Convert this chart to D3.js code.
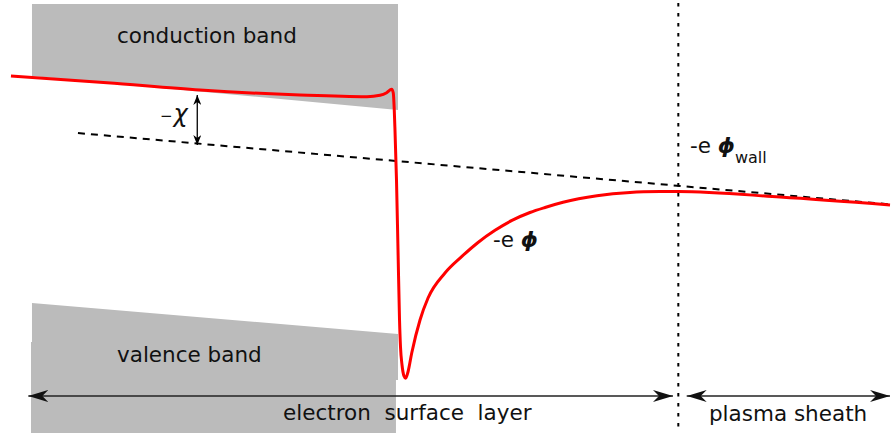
<!DOCTYPE html>
<html>
<head>
<meta charset="utf-8">
<script src="https://cdn.jsdelivr.net/npm/d3@7/dist/d3.min.js"></script>
<style>
  html, body { margin: 0; padding: 0; background: #fff; }
  svg { display: block; font-family: "DejaVu Sans", sans-serif; }
</style>
</head>
<body>
<svg id="chart" width="891" height="433"></svg>
<script>
// ---- data (position u: 0..100 across, energy E: 0..100 bottom to top) ----
const potentialU = [1.23, 12.01, 22.45, 33.67, 41.19, 42.65, 43.40, 43.96, 44.14, 44.25, 44.33, 44.50, 44.67, 44.84, 44.95, 45.12, 45.34, 45.53, 45.79, 46.21, 47.14, 48.04, 49.94, 51.81, 53.65, 55.56, 57.46, 59.48, 61.17, 63.19, 67.00, 70.71, 74.07, 76.09, 87.54, 99.89];
const potentialE = [82.45, 80.90, 79.21, 78.06, 77.67, 77.99, 78.59, 79.38, 78.52, 74.60, 69.98, 58.43, 42.26, 26.10, 19.86, 15.70, 13.16, 12.63, 14.09, 18.48, 26.10, 31.18, 36.95, 40.72, 44.00, 46.81, 49.10, 50.92, 52.08, 53.28, 54.78, 55.54, 55.75, 55.77, 54.50, 52.66];

const vacuumU = [8.75, 100];
const vacuumE = [69.28, 52.77];

const conductionU = [3.59, 44.67, 44.67, 3.59];
const conductionE = [99.08, 99.08, 74.60, 82.45];

const valenceU = [3.59, 44.67, 44.67, 44.44, 44.44, 3.48, 3.48, 3.59];
const valenceE = [30.02, 22.86, 12.24, 12.24, 0, 0, 21.02, 21.02];

const interfaceU = 76.13;          // surface layer / sheath boundary
const chiU = 22.14, chiTop = 78.06, chiBottom = 66.51;

const spanNames = ["electron  surface  layer", "plasma sheath"];
const spanFrom = [3.18, 77.07];
const spanTo = [75.53, 99.89];
const spanE = 8.55;
const spanLabelU = [31.76, 79.57];
const spanLabelE = [3.0, 2.77];

const bandNames = ["conduction band", "valence band"];
const bandLabelU = [13.13, 13.13];
const bandLabelE = [90.07, 16.40];

// ---- scales ----
const W = 891, H = 433;
const x = d3.scaleLinear().domain([0, 100]).range([0, W]);
const y = d3.scaleLinear().domain([0, 100]).range([H, 0]);

const svg = d3.select("#chart");
const defs = svg.append("defs");

function marker(id, len, wid, color) {
  defs.append("marker")
    .attr("id", id)
    .attr("markerUnits", "userSpaceOnUse")
    .attr("markerWidth", len).attr("markerHeight", wid)
    .attr("viewBox", `0 0 ${len} ${wid}`)
    .attr("refX", len).attr("refY", wid / 2)
    .attr("orient", "auto-start-reverse")
    .append("path")
    .attr("d", `M0,0 L${len},${wid/2} L0,${wid} L${len*0.3},${wid/2} Z`)
    .attr("fill", color);
}
marker("bigArrow", 20, 12, "#111");
marker("smallArrow", 10, 8, "#000");

const bandColor = "#bbbbbb";
const poly = (us, es) => us.map((u, i) => [x(u), y(es[i])]);

// bands
svg.append("polygon")
  .attr("points", poly(conductionU, conductionE).join(" "))
  .attr("fill", bandColor);
svg.append("polygon")
  .attr("points", poly(valenceU, valenceE).join(" "))
  .attr("fill", bandColor);

// band labels
svg.selectAll("text.band").data(bandNames).enter().append("text")
  .attr("class", "band")
  .attr("x", (d, i) => x(bandLabelU[i]))
  .attr("y", (d, i) => y(bandLabelE[i]))
  .attr("font-size", 21.5)
  .attr("fill", "#111")
  .text(d => d);

// vacuum level (dashed)
svg.append("line")
  .attr("x1", x(vacuumU[0])).attr("y1", y(vacuumE[0]))
  .attr("x2", x(vacuumU[1])).attr("y2", y(vacuumE[1]))
  .attr("stroke", "#000").attr("stroke-width", 2)
  .attr("stroke-dasharray", "7 6");

// interface dotted vertical
svg.append("line")
  .attr("x1", x(interfaceU)).attr("x2", x(interfaceU))
  .attr("y1", y(99.3)).attr("y2", y(0))
  .attr("stroke", "#000").attr("stroke-width", 2)
  .attr("stroke-dasharray", "3.5 6.5");

// potential curve
const pts = potentialU.map((u, i) => [u, potentialE[i]]);
svg.append("path")
  .attr("d", d3.line().x(d => x(d[0])).y(d => y(d[1])).curve(d3.curveMonotoneX)(pts))
  .attr("fill", "none")
  .attr("stroke", "#ff0000")
  .attr("stroke-width", 3)
  .attr("stroke-linejoin", "round");

// chi arrow
svg.append("line")
  .attr("x1", x(chiU)).attr("x2", x(chiU))
  .attr("y1", y(chiTop)).attr("y2", y(chiBottom))
  .attr("stroke", "#000").attr("stroke-width", 1.3)
  .attr("marker-start", "url(#smallArrow)")
  .attr("marker-end", "url(#smallArrow)");

const chiLabel = svg.append("text")
  .attr("x", x(17.96)).attr("y", y(71.82))
  .attr("fill", "#111");
chiLabel.append("tspan").attr("font-size", 15).attr("dy", -1).text("−");
chiLabel.append("tspan").attr("font-size", 24).attr("font-style", "italic").attr("dy", 1).attr("dx", 1).text("χ");

// span arrows
spanNames.forEach((name, i) => {
  svg.append("line")
    .attr("x1", x(spanFrom[i])).attr("x2", x(spanTo[i]))
    .attr("y1", y(spanE)).attr("y2", y(spanE))
    .attr("stroke", "#222").attr("stroke-width", 1.5)
    .attr("marker-start", "url(#bigArrow)")
    .attr("marker-end", "url(#bigArrow)");
  svg.append("text")
    .attr("x", x(spanLabelU[i])).attr("y", y(spanLabelE[i]))
    .attr("font-size", 21.5)
    .attr("fill", "#111")
    .style("white-space", "pre")
    .text(name);
});

// -e phi label
const phiLabel = svg.append("text")
  .attr("x", x(55.33)).attr("y", y(42.96))
  .attr("font-size", 21.5).attr("fill", "#111")
  .style("white-space", "pre");
phiLabel.append("tspan").text("-e ");
phiLabel.append("tspan").attr("font-weight", "bold").attr("font-style", "italic").text("ϕ");

// -e phi_wall label
const wallLabel = svg.append("text")
  .attr("x", x(77.44)).attr("y", y(64.67))
  .attr("font-size", 21.5).attr("fill", "#111")
  .style("white-space", "pre");
wallLabel.append("tspan").text("-e ");
wallLabel.append("tspan").attr("font-weight", "bold").attr("font-style", "italic").text("ϕ");
wallLabel.append("tspan").attr("font-size", 16).attr("dy", 10).text("wall");
</script>
</body>
</html>
